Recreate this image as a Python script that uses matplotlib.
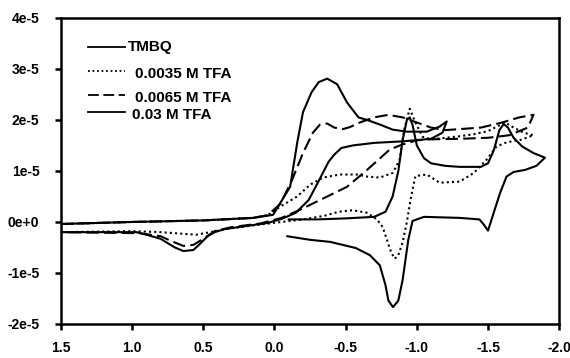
import numpy as np
import matplotlib
matplotlib.use("Agg")
import matplotlib.pyplot as plt

plt.rcParams['font.family'] = ['Liberation Sans', 'DejaVu Sans']

# Cyclic voltammograms: potential (V) and current (units of 1e-5 A)
tmbq_E = [-0.10, -0.30, -0.50, -0.70, -0.78, -0.83, -0.87, -0.90, -0.93, -0.95, -0.97, -1.00,
          -1.05, -1.10, -1.20, -1.30, -1.40, -1.45, -1.50, -1.54, -1.58, -1.61, -1.64, -1.68,
          -1.74, -1.82, -1.90,
          -1.84, -1.76, -1.68, -1.63, -1.585, -1.54, -1.50, -1.47, -1.44, -1.30, -1.05, -0.97,
          -0.94, -0.90, -0.87, -0.833, -0.80, -0.78, -0.74, -0.67, -0.57, -0.39, -0.25, -0.09]
tmbq_I = [0.05, 0.05, 0.07, 0.10, 0.20, 0.50, 1.00, 1.60, 2.00, 2.05, 1.90, 1.50,
          1.25, 1.15, 1.10, 1.08, 1.08, 1.08, 1.15, 1.40, 1.80, 1.92, 1.85, 1.65,
          1.48, 1.35, 1.26,
          1.10, 1.02, 0.98, 0.89, 0.57, 0.18, -0.17, -0.05, 0.05, 0.08, 0.10, 0.02,
          -0.35, -1.14, -1.54, -1.67, -1.54, -1.24, -0.85, -0.65, -0.51, -0.39, -0.35, -0.28]

tfa1_E = [1.50, 1.00, 0.50, 0.15, 0.05, -0.04, -0.16, -0.25, -0.34, -0.46, -0.58, -0.65,
          -0.74, -0.83, -0.88, -0.91, -0.95, -0.99, -1.04, -1.10, -1.20, -1.30, -1.40, -1.50,
          -1.57, -1.62, -1.68, -1.75, -1.82,
          -1.73, -1.63, -1.56, -1.49, -1.40, -1.30, -1.16, -1.07, -0.99, -0.96, -0.93, -0.90,
          -0.87, -0.845, -0.82, -0.79, -0.76, -0.72, -0.65, -0.55, -0.45, -0.35, -0.20, -0.05,
          0.10, 0.30, 0.45, 0.55, 0.65, 0.80, 1.00, 1.50]
tfa1_I = [-0.04, 0.00, 0.03, 0.08, 0.13, 0.30, 0.50, 0.73, 0.87, 0.93, 0.93, 0.89,
          0.87, 0.96, 1.22, 1.80, 2.22, 1.95, 1.67, 1.62, 1.65, 1.68, 1.72, 1.78,
          1.88, 1.95, 1.85, 1.75, 1.70,
          1.61, 1.56, 1.48, 1.22, 0.96, 0.79, 0.77, 0.93, 0.90, 0.50, 0.00, -0.40,
          -0.65, -0.72, -0.60, -0.35, -0.10, 0.05, 0.18, 0.23, 0.20, 0.12, 0.05, 0.00,
          -0.05, -0.12, -0.20, -0.25, -0.23, -0.20, -0.18, -0.20]

tfa2_E = [1.50, 1.00, 0.50, 0.15, 0.05, -0.04, -0.12, -0.20, -0.27, -0.32, -0.37, -0.42,
          -0.48, -0.53, -0.60, -0.70, -0.80, -0.90, -1.00, -1.10, -1.20, -1.30, -1.45, -1.60,
          -1.72, -1.82,
          -1.78, -1.65, -1.50, -1.30, -1.10, -1.00, -0.90, -0.81, -0.65, -0.51, -0.32, -0.18,
          -0.05, 0.10, 0.30, 0.42, 0.50, 0.57, 0.64, 0.72, 0.80, 0.95, 1.50]
tfa2_I = [-0.04, 0.00, 0.03, 0.08, 0.13, 0.35, 0.80, 1.35, 1.75, 1.91, 1.93, 1.85,
          1.82, 1.86, 1.95, 2.05, 2.10, 2.05, 1.95, 1.85, 1.80, 1.82, 1.85, 1.95,
          2.05, 2.10,
          1.85, 1.70, 1.65, 1.63, 1.62, 1.60, 1.52, 1.42, 1.02, 0.69, 0.43, 0.24,
          0.08, -0.03, -0.10, -0.18, -0.33, -0.45, -0.47, -0.38, -0.28, -0.22, -0.20]

tfa3_E = [1.50, 1.00, 0.50, 0.15, 0.01, -0.11, -0.16, -0.20, -0.26, -0.31, -0.37, -0.44,
          -0.51, -0.59, -0.65, -0.74, -0.83, -0.93, -1.07, -1.16, -1.21,
          -1.18, -1.10, -0.90, -0.70, -0.55, -0.47, -0.42, -0.38, -0.31, -0.24, -0.15, -0.05,
          0.05, 0.20, 0.35, 0.42, 0.47, 0.52, 0.57, 0.64, 0.70, 0.73, 0.80, 0.90, 0.97, 1.20, 1.50]
tfa3_I = [-0.04, 0.00, 0.03, 0.08, 0.14, 0.69, 1.56, 2.15, 2.54, 2.74, 2.81, 2.70,
          2.34, 2.05, 2.00, 1.91, 1.81, 1.77, 1.77, 1.87, 1.97,
          1.75, 1.63, 1.58, 1.55, 1.50, 1.45, 1.32, 1.18, 0.80, 0.43, 0.18, 0.06,
          -0.02, -0.08, -0.14, -0.20, -0.28, -0.42, -0.55, -0.57, -0.50, -0.45, -0.33, -0.25, -0.20, -0.20, -0.20]

labels = ['TMBQ', '0.0035 M TFA', '0.0065 M TFA', '0.03 M TFA']
styles = ['-', (0, (1, 1.5)), (0, (6, 2.5)), '-']
curves = [(tmbq_E, tmbq_I), (tfa1_E, tfa1_I), (tfa2_E, tfa2_I), (tfa3_E, tfa3_I)]

y_ticks = [-2e-5, -1e-5, 0, 1e-5, 2e-5, 3e-5, 4e-5]
y_tick_labels = ['-2e-5', '-1e-5', '0e+0', '1e-5', '2e-5', '3e-5', '4e-5']
x_ticks = [1.5, 1.0, 0.5, 0.0, -0.5, -1.0, -1.5, -2.0]

fig = plt.figure(figsize=(5.7, 3.58), dpi=100)
ax = fig.add_axes([0.107, 0.095, 0.874, 0.855])

for (E, I), ls in zip(curves, styles):
    ax.plot(E, np.array(I) * 1e-5, color='black', linestyle=ls, linewidth=1.5)

ax.set_xlim(1.5, -2.0)
ax.set_ylim(-2e-5, 4e-5)
ax.set_xticks(x_ticks)
ax.set_xticklabels(['%.1f' % v for v in x_ticks])
ax.set_yticks(y_ticks)
ax.set_yticklabels(y_tick_labels)
ax.tick_params(direction='out', length=4.5, width=1.8, labelsize=10)
ax.tick_params(axis='y', pad=11)
ax.tick_params(axis='x', pad=8)
for lab in ax.get_xticklabels() + ax.get_yticklabels():
    lab.set_fontweight('bold')
for sp in ax.spines.values():
    sp.set_linewidth(1.8)

# hand-placed legend
leg_line_y = [0.906, 0.828, 0.748, 0.693]
leg_text_y = [0.906, 0.817, 0.739, 0.683]
leg_tx = [0.135, 0.149, 0.149, 0.143]
for ly, ty, tx, ls, lab in zip(leg_line_y, leg_text_y, leg_tx, styles, labels):
    ax.plot([0.054, 0.129], [ly, ly], transform=ax.transAxes, color='black',
            linestyle=ls, linewidth=1.3)
    ax.text(tx, ty, lab, transform=ax.transAxes, fontsize=11, fontweight='bold',
            va='center', ha='left')

fig.savefig('out.png', dpi=100)
